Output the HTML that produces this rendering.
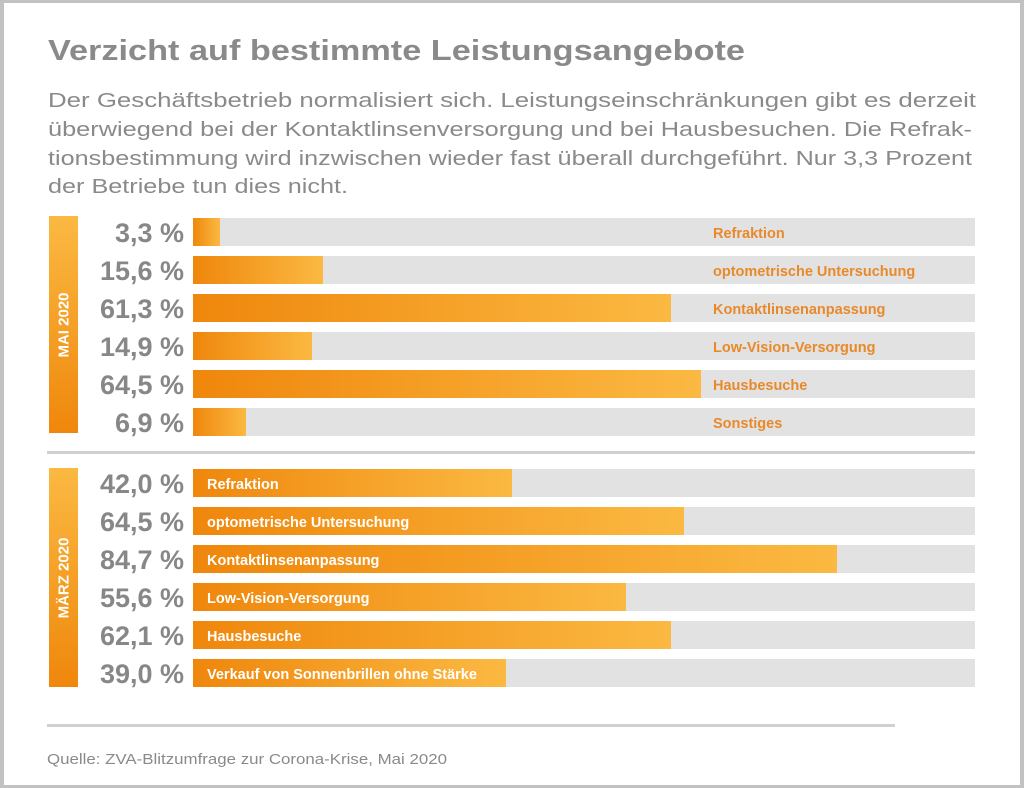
<!DOCTYPE html>
<html><head><meta charset="utf-8"><style>
*{margin:0;padding:0;box-sizing:border-box}
body{width:1024px;height:788px;background:#fff;position:relative;overflow:hidden;font-family:"Liberation Sans",sans-serif}
.frame{position:absolute;left:0;top:0;width:1024px;height:788px;border:solid #c2c2c2;border-width:3px 4px 3px 4px}
.a{position:absolute}
.bg{position:absolute;left:193px;width:782px;height:28px;background:#e2e2e2}
.fill{position:absolute;left:193px;height:28px;background:linear-gradient(to right,#ef870c,#fbb942)}
.pct{position:absolute;left:60px;width:124px;text-align:right;font-size:27px;font-weight:bold;color:#878787;height:28px;line-height:30px}
.lo{position:absolute;left:713px;font-size:14.5px;font-weight:bold;color:#e8892a;height:28px;line-height:32px;white-space:nowrap}
.lw{position:absolute;left:207px;font-size:14.5px;font-weight:bold;color:#fff;height:28px;line-height:32px;white-space:nowrap}
.side{position:absolute;left:49px;width:29px;background:linear-gradient(to bottom,#fbb942,#ef870c)}
.side span{position:absolute;left:50%;top:50%;transform:translate(-50%,-50%) rotate(-90deg);color:#fff;font-weight:bold;font-size:15px;white-space:nowrap}
.line{position:absolute;height:3px;background:#d0d0d0}
svg{position:absolute;left:0;top:0}
</style></head><body>
<div class="frame"></div>
<svg width="1024" height="788" font-family="Liberation Sans, sans-serif" fill="#8a8a8a">
<text x="48" y="60" font-size="29" font-weight="bold" textLength="697" lengthAdjust="spacingAndGlyphs">Verzicht auf bestimmte Leistungsangebote</text>
<g font-size="20">
<text x="48" y="107" textLength="928" lengthAdjust="spacingAndGlyphs">Der Geschäftsbetrieb normalisiert sich. Leistungseinschränkungen gibt es derzeit</text>
<text x="48" y="136" textLength="924" lengthAdjust="spacingAndGlyphs">überwiegend bei  der Kontaktlinsenversorgung und bei Hausbesuchen. Die Refrak-</text>
<text x="48" y="165" textLength="924" lengthAdjust="spacingAndGlyphs">tionsbestimmung wird inzwischen wieder fast überall durchgeführt. Nur 3,3 Prozent</text>
<text x="48" y="193" textLength="300" lengthAdjust="spacingAndGlyphs">der Betriebe tun dies nicht.</text>
</g>
<text x="47" y="764" font-size="15" textLength="400" lengthAdjust="spacingAndGlyphs">Quelle: ZVA-Blitzumfrage zur Corona-Krise, Mai 2020</text>
</svg>

<div class="side" style="top:216px;height:217px"><span>MAI 2020</span></div>
<div class="side" style="top:468px;height:219px"><span>MÄRZ 2020</span></div>

<div class="bg" style="top:218px"></div><div class="fill" style="top:218px;width:27px"></div><div class="pct" style="top:218px">3,3 %</div><div class="lo" style="top:218px">Refraktion</div>
<div class="bg" style="top:256px"></div><div class="fill" style="top:256px;width:130px"></div><div class="pct" style="top:256px">15,6 %</div><div class="lo" style="top:256px">optometrische Untersuchung</div>
<div class="bg" style="top:294px"></div><div class="fill" style="top:294px;width:478px"></div><div class="pct" style="top:294px">61,3 %</div><div class="lo" style="top:294px">Kontaktlinsenanpassung</div>
<div class="bg" style="top:332px"></div><div class="fill" style="top:332px;width:119px"></div><div class="pct" style="top:332px">14,9 %</div><div class="lo" style="top:332px">Low-Vision-Versorgung</div>
<div class="bg" style="top:370px"></div><div class="fill" style="top:370px;width:508px"></div><div class="pct" style="top:370px">64,5 %</div><div class="lo" style="top:370px">Hausbesuche</div>
<div class="bg" style="top:408px"></div><div class="fill" style="top:408px;width:53px"></div><div class="pct" style="top:408px">6,9 %</div><div class="lo" style="top:408px">Sonstiges</div>

<div class="line" style="left:47px;top:451px;width:928px"></div>

<div class="bg" style="top:469px"></div><div class="fill" style="top:469px;width:319px"></div><div class="pct" style="top:469px">42,0 %</div><div class="lw" style="top:469px">Refraktion</div>
<div class="bg" style="top:507px"></div><div class="fill" style="top:507px;width:491px"></div><div class="pct" style="top:507px">64,5 %</div><div class="lw" style="top:507px">optometrische Untersuchung</div>
<div class="bg" style="top:545px"></div><div class="fill" style="top:545px;width:644px"></div><div class="pct" style="top:545px">84,7 %</div><div class="lw" style="top:545px">Kontaktlinsenanpassung</div>
<div class="bg" style="top:583px"></div><div class="fill" style="top:583px;width:433px"></div><div class="pct" style="top:583px">55,6 %</div><div class="lw" style="top:583px">Low-Vision-Versorgung</div>
<div class="bg" style="top:621px"></div><div class="fill" style="top:621px;width:478px"></div><div class="pct" style="top:621px">62,1 %</div><div class="lw" style="top:621px">Hausbesuche</div>
<div class="bg" style="top:659px"></div><div class="fill" style="top:659px;width:313px"></div><div class="pct" style="top:659px">39,0 %</div><div class="lw" style="top:659px">Verkauf von Sonnenbrillen ohne Stärke</div>

<div class="line" style="left:47px;top:724px;width:848px"></div>
</body></html>
